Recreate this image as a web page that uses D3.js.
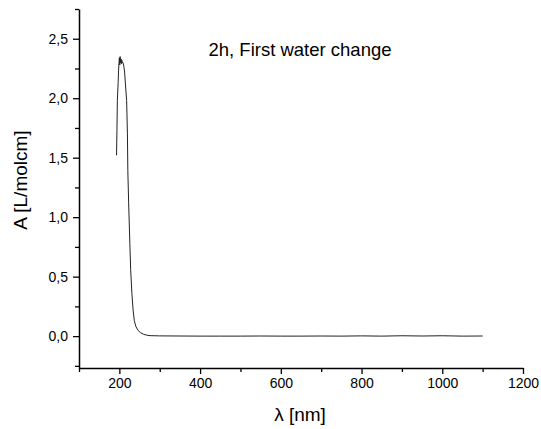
<!DOCTYPE html>
<html>
<head>
<meta charset="utf-8">
<script src="https://cdn.jsdelivr.net/npm/d3@7"></script>
<style>
body { margin: 0; background: #fff; }
svg { display: block; }
text { font-family: "Liberation Sans", Arial, sans-serif; }
</style>
</head>
<body>
<svg id="chart" width="541" height="429"></svg>
<script>
// Data
const wavelength = [193, 194, 195, 197, 198, 199, 200, 201, 202, 203, 204, 205, 206, 207, 209, 211, 213, 215, 218, 220, 221, 223, 226, 228, 231, 234, 237, 241, 246, 252, 260, 268, 276, 300, 350, 400, 450, 500, 550, 600, 650, 700, 750, 800, 850, 900, 950, 1000, 1050, 1100];
const absorbance = [1.52, 1.73, 1.98, 2.13, 2.23, 2.29, 2.34, 2.28, 2.35, 2.30, 2.33, 2.29, 2.32, 2.30, 2.30, 2.27, 2.22, 2.12, 1.98, 1.70, 1.39, 1.12, 0.78, 0.56, 0.36, 0.22, 0.13, 0.08, 0.05, 0.03, 0.015, 0.008, 0.004, 0.002, 0.001, 0.0, 0.0, 0.0, 0.001, 0.0, 0.0, 0.001, 0.0, 0.002, 0.0, 0.003, 0.001, 0.003, 0.0, 0.001];
const xMajorTicks = [200, 400, 600, 800, 1000, 1200];
const xMinorTicks = [100, 300, 500, 700, 900, 1100];
const yMajorTicks = [0, 0.5, 1.0, 1.5, 2.0, 2.5];
const yMinorTicks = [-0.25, 0.25, 0.75, 1.25, 1.75, 2.25, 2.75];
const titleText = "2h, First water change";
const xLabel = "λ [nm]";
const yLabel = "A [L/molcm]";

const svg = d3.select("#chart");
const mLeft = 79, mRight = 523, mTop = 9, mBottom = 368;

const x = d3.scaleLinear().domain([100, 1200]).range([mLeft, mRight]);
const y = d3.scaleLinear().domain([-0.268, 2.75]).range([mBottom, mTop]);

const fmtY = d => d.toFixed(1).replace(".", ",");
const fmtX = d3.format("d");

// X axis
const gx = svg.append("g").attr("transform", `translate(0,${mBottom})`);
gx.call(d3.axisBottom(x).tickValues(xMajorTicks).tickFormat(fmtX).tickSize(6).tickSizeOuter(0).tickPadding(4));
const gxm = gx.append("g").call(d3.axisBottom(x).tickValues(xMinorTicks).tickSize(4).tickSizeOuter(0).tickFormat(""));
gxm.selectAll(".domain").remove();
gx.selectAll(".domain").attr("stroke", "#000").attr("stroke-width", 1.5);
gx.selectAll(".tick line").attr("stroke", "#000").attr("stroke-width", 1.3);
gx.selectAll("text").attr("font-size", 14).attr("fill", "#000").attr("font-family", "Liberation Sans, Arial, sans-serif");

// Y axis
const gy = svg.append("g").attr("transform", `translate(${mLeft},0)`);
gy.call(d3.axisLeft(y).tickValues(yMajorTicks).tickFormat(fmtY).tickSize(6).tickSizeOuter(0).tickPadding(5));
const gym = gy.append("g").call(d3.axisLeft(y).tickValues(yMinorTicks).tickSize(4).tickSizeOuter(0).tickFormat(""));
gym.selectAll(".domain").remove();
gy.selectAll(".domain").attr("stroke", "#000").attr("stroke-width", 1.5);
gy.selectAll(".tick line").attr("stroke", "#000").attr("stroke-width", 1.3);
gy.selectAll("text").attr("font-size", 14).attr("fill", "#000").attr("font-family", "Liberation Sans, Arial, sans-serif");

// Line
const pts = wavelength.map((w, i) => [w, absorbance[i]]);
svg.append("path")
  .datum(pts)
  .attr("fill", "none")
  .attr("stroke", "#222")
  .attr("stroke-width", 1)
  .attr("d", d3.line().x(d => x(d[0])).y(d => y(d[1])));

// Title
svg.append("text")
  .attr("x", 300).attr("y", 56)
  .attr("text-anchor", "middle")
  .attr("font-size", 18.5)
  .attr("fill", "#000")
  .text(titleText);

// Axis labels
svg.append("text")
  .attr("x", 300).attr("y", 421)
  .attr("text-anchor", "middle")
  .attr("font-size", 19)
  .attr("fill", "#000")
  .text(xLabel);

svg.append("text")
  .attr("transform", "translate(27,180) rotate(-90)")
  .attr("text-anchor", "middle")
  .attr("font-size", 19)
  .attr("fill", "#000")
  .text(yLabel);
</script>
</body>
</html>
